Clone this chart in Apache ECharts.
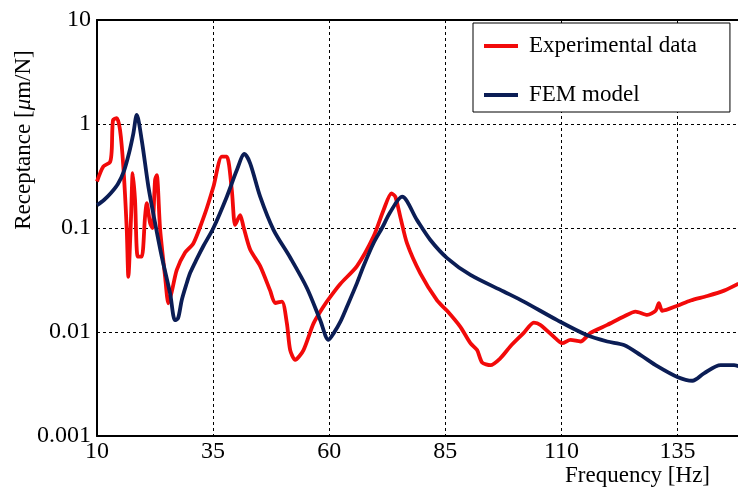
<!DOCTYPE html>
<html>
<head>
<meta charset="utf-8">
<script src="https://cdn.jsdelivr.net/npm/echarts@6/dist/echarts.min.js"></script>
<style>
  html, body { margin: 0; padding: 0; background: #fff; }
  #chart { width: 738px; height: 491px; }
</style>
</head>
<body>
<div id="chart"></div>
<script>
// experimental data (red)
const expFreq = [10, 11.36, 12.8, 13.17, 13.45, 14.25, 14.96, 15.67, 16.4, 16.75, 17.33, 17.69, 18.19, 18.77, 19.63,
  20.34, 20.71, 21.42, 21.92, 22.5, 22.87, 23.58, 24.66, 25.37, 26.1, 27.18, 28.97, 30.75, 33.28, 35.06, 36.87,
  37.95, 39.03, 39.74, 40.82, 41.53, 42.97, 45.13, 47.28, 48.36, 49.81, 50.88, 51.59, 52.67, 54.46, 56.62, 58.77,
  60.22, 62.37, 65.97, 69.55, 71.7, 73.4, 74.22, 75.3, 76.75, 79.61, 83.21, 85.37, 88.23, 90.39, 91.83, 92.91,
  94.7, 96.85, 99.01, 101.88, 104.03, 105.47, 109.07, 110.15, 111.94, 114.09, 116.25, 119.85, 123.43, 125.95,
  128.47, 130.26, 130.97, 131.7, 134.94, 137.8, 141.4, 145.0, 148.1];
const expVal = [0.28, 0.39, 0.43, 0.56, 1.09, 1.14, 0.875, 0.39, 0.098, 0.034, 0.128, 0.336, 0.185, 0.053, 0.053,
  0.128, 0.173, 0.112, 0.1, 0.29, 0.323, 0.098, 0.034, 0.0189, 0.0245, 0.0395, 0.058, 0.071, 0.139, 0.249, 0.485,
  0.485, 0.23, 0.107, 0.133, 0.103, 0.062, 0.043, 0.025, 0.019, 0.0196, 0.0121, 0.0067, 0.0054, 0.0067, 0.0121, 0.0176,
  0.0218, 0.029, 0.043, 0.083, 0.149, 0.215, 0.2, 0.128, 0.071, 0.0366, 0.0201, 0.016, 0.0112, 0.0078, 0.0067, 0.0051,
  0.0048, 0.0056, 0.0073, 0.0098, 0.0123, 0.0117, 0.0084, 0.0078, 0.0084, 0.0081, 0.0098, 0.0117, 0.0141, 0.0157,
  0.0146, 0.016, 0.0189, 0.016, 0.0179, 0.0201, 0.0222, 0.025, 0.0292];

// FEM model (navy)
const femFreq = [10, 11.5, 13, 14.5, 15.8, 16.9, 17.8, 18.56, 19.63, 21.06, 22.5, 23.94, 25.73, 26.81, 27.46, 28.25,
  29.33, 30.04, 31.49, 32.91, 35.06, 37.95, 40.11, 41.75, 42.97, 45.13, 48, 51.59, 55.19, 58.06, 59.85, 61.0,
  62.37, 63.81, 65.97, 67.39, 69.55, 71.36, 73.15, 75.67, 78.9, 81.77, 85.37, 90.39, 97.56, 101.88, 109.07, 115.54,
  119.85, 123.43, 127.03, 130.62, 134.94, 138.17, 140.67, 144.27, 147.14, 148.1];
const femVal = [0.166, 0.186, 0.217, 0.265, 0.353, 0.526, 0.8, 1.22, 0.7, 0.25, 0.112, 0.053, 0.0236, 0.013, 0.0136, 0.0203,
  0.0296, 0.0369, 0.0504, 0.0671, 0.1, 0.2, 0.361, 0.515, 0.419, 0.2, 0.096, 0.052, 0.0265, 0.013, 0.0084, 0.0098,
  0.0125, 0.0175, 0.0295, 0.0431, 0.0717, 0.1, 0.1425, 0.2, 0.119, 0.0767, 0.0514, 0.0354, 0.0245, 0.0196, 0.013, 0.0093,
  0.0081, 0.0075, 0.006, 0.0047, 0.0037, 0.0034, 0.004, 0.0048, 0.0048, 0.0047];

const xTicks = [10, 35, 60, 85, 110, 135];
const yTickLabels = ['0.001', '0.01', '0.1', '1', '10'];
const seriesNames = ['Experimental data', 'FEM model'];

const serif = 'Liberation Serif';
const grid = { color: '#000', width: 1, type: [3, 3] };

let chart = echarts.init(document.getElementById('chart'));
let option = {
  animation: false,
  backgroundColor: '#fff',
  grid: { left: 97, top: 20, right: 0, bottom: 55 },
  legend: {
    orient: 'vertical',
    left: 473,
    top: 23,
    padding: [11, 33, 5, 11],
    itemWidth: 34,
    itemHeight: 4,
    itemGap: 25,
    icon: 'rect',
    borderColor: '#000',
    borderWidth: 1,
    borderRadius: 0,
    backgroundColor: '#fff',
    textStyle: { fontFamily: serif, fontSize: 23, color: '#000', lineHeight: 24, padding: [0, 0, 0, 6] },
    data: seriesNames
  },
  xAxis: [{
    type: 'value',
    min: 10,
    max: 148,
    axisLine: { show: true, onZero: false, lineStyle: { color: '#000', width: 2 } },
    axisTick: { show: false, customValues: xTicks },
    axisLabel: { customValues: xTicks, margin: 4, fontFamily: serif, fontSize: 24, color: '#000' },
    splitLine: { show: true, lineStyle: grid }
  }, {
    type: 'value',
    position: 'top',
    min: 10,
    max: 148,
    axisLine: { show: true, lineStyle: { color: '#000', width: 2 } },
    axisTick: { show: false },
    axisLabel: { show: false },
    splitLine: { show: false }
  }],
  yAxis: {
    type: 'log',
    logBase: 10,
    min: 0.001,
    max: 10,
    axisLine: { show: true, lineStyle: { color: '#000', width: 2 } },
    axisTick: { show: false },
    axisLabel: {
      margin: 6, fontFamily: serif, fontSize: 24, color: '#000',
      formatter: function (v) {
        let i = Math.round(Math.log10(v)) + 3;
        return yTickLabels[i] || '';
      }
    },
    splitLine: { show: true, lineStyle: grid }
  },
  graphic: [{
    type: 'text',
    x: 24,
    y: 140,
    rotation: Math.PI / 2,
    style: {
      text: 'Receptance [{i|μ}m/N]',
      fontFamily: serif, fontSize: 23, fill: '#000',
      align: 'center', verticalAlign: 'middle',
      rich: { i: { fontFamily: serif, fontSize: 23, fontStyle: 'italic', fill: '#000' } }
    }
  }, {
    type: 'text',
    x: 710,
    y: 476,
    style: {
      text: 'Frequency [Hz]',
      fontFamily: serif, fontSize: 23, fill: '#000',
      align: 'right', verticalAlign: 'middle'
    }
  }],
  series: [{
    name: seriesNames[0],
    type: 'line',
    xAxisIndex: 0,
    smooth: 0.25,
    showSymbol: false,
    lineStyle: { color: '#f20a0a', width: 3.8 },
    itemStyle: { color: '#f20a0a' },
    data: expFreq.map((f, i) => [f, expVal[i]]),
    z: 3
  }, {
    name: seriesNames[1],
    type: 'line',
    xAxisIndex: 0,
    smooth: 0.3,
    showSymbol: false,
    lineStyle: { color: '#0b1d55', width: 3.8 },
    itemStyle: { color: '#0b1d55' },
    data: femFreq.map((f, i) => [f, femVal[i]]),
    z: 4
  }]
};
chart.setOption(option);
</script>
</body>
</html>
